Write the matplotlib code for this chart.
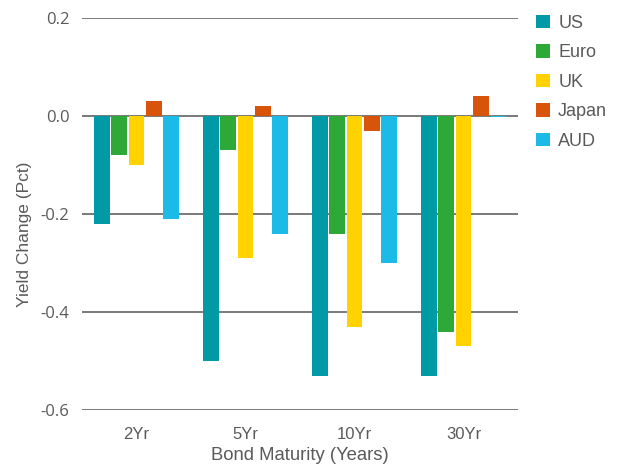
import matplotlib
matplotlib.use("Agg")
import matplotlib.pyplot as plt
import numpy as np

maturities = ["2Yr", "5Yr", "10Yr", "30Yr"]
regions = ["US", "Euro", "UK", "Japan", "AUD"]
us = [-0.22, -0.50, -0.53, -0.53]
euro = [-0.08, -0.07, -0.24, -0.44]
uk = [-0.10, -0.29, -0.43, -0.47]
japan = [0.03, 0.02, -0.03, 0.04]
aud = [-0.21, -0.24, -0.30, -0.002]
y_ticks = [0.2, 0.0, -0.2, -0.4, -0.6]

series = [us, euro, uk, japan, aud]
colors = ["#009AA6", "#2EA836", "#FFD200", "#D9540B", "#1CBBE7"]
text_color = "#5a5a5a"

W, H = 625, 468
fig = plt.figure(figsize=(W / 100, H / 100), dpi=100)
ax = fig.add_axes([82 / W, 1 - 410 / H, 436 / W, 392 / H])

x = np.arange(len(maturities))
slot = 0.16
width = 0.146
for i, (name, vals, col) in enumerate(zip(regions, series, colors)):
    ax.bar(x + (i - 2) * slot, vals, width=width, color=col, label=name, zorder=3)

ax.set_xlim(-0.5, 3.5)
ax.set_ylim(-0.6, 0.2)
ax.set_yticks(y_ticks)
ax.set_yticklabels([f"{v:.1f}" for v in y_ticks], fontfamily="Open Sans",
                   fontsize=12, color=text_color)
ax.set_xticks(x)
ax.set_xticklabels(maturities, fontfamily="Liberation Sans", fontsize=12,
                   color=text_color)
ax.tick_params(axis="both", length=0)
ax.tick_params(axis="y", pad=9)
ax.tick_params(axis="x", pad=12)
ax.grid(axis="y", color="#555555", linewidth=1.1, zorder=1)
for s in ax.spines.values():
    s.set_visible(False)

ax.set_ylabel("Yield Change (Pct)", fontfamily="Liberation Sans", fontsize=12.5,
              color=text_color)
ax.yaxis.set_label_coords(25 / W, 0.5, transform=fig.transFigure)
ax.yaxis.label.set_verticalalignment("center")
ax.set_xlabel("Bond Maturity (Years)", fontfamily="Liberation Sans", fontsize=13.3,
              color=text_color)
ax.xaxis.set_label_coords(300 / W, 1 - 455 / H, transform=fig.transFigure)
ax.xaxis.label.set_verticalalignment("center")

leg = fig.legend(loc="upper left", bbox_to_anchor=(536 / W, 1 - 14.5 / H),
                 bbox_transform=fig.transFigure, frameon=False, borderpad=0,
                 borderaxespad=0, handlelength=0.78, handleheight=0.78,
                 handletextpad=0.45, labelspacing=0.69,
                 prop={"family": "Liberation Sans", "size": 13})
for t in leg.get_texts():
    t.set_color(text_color)

fig.savefig("out.png", dpi=100)
